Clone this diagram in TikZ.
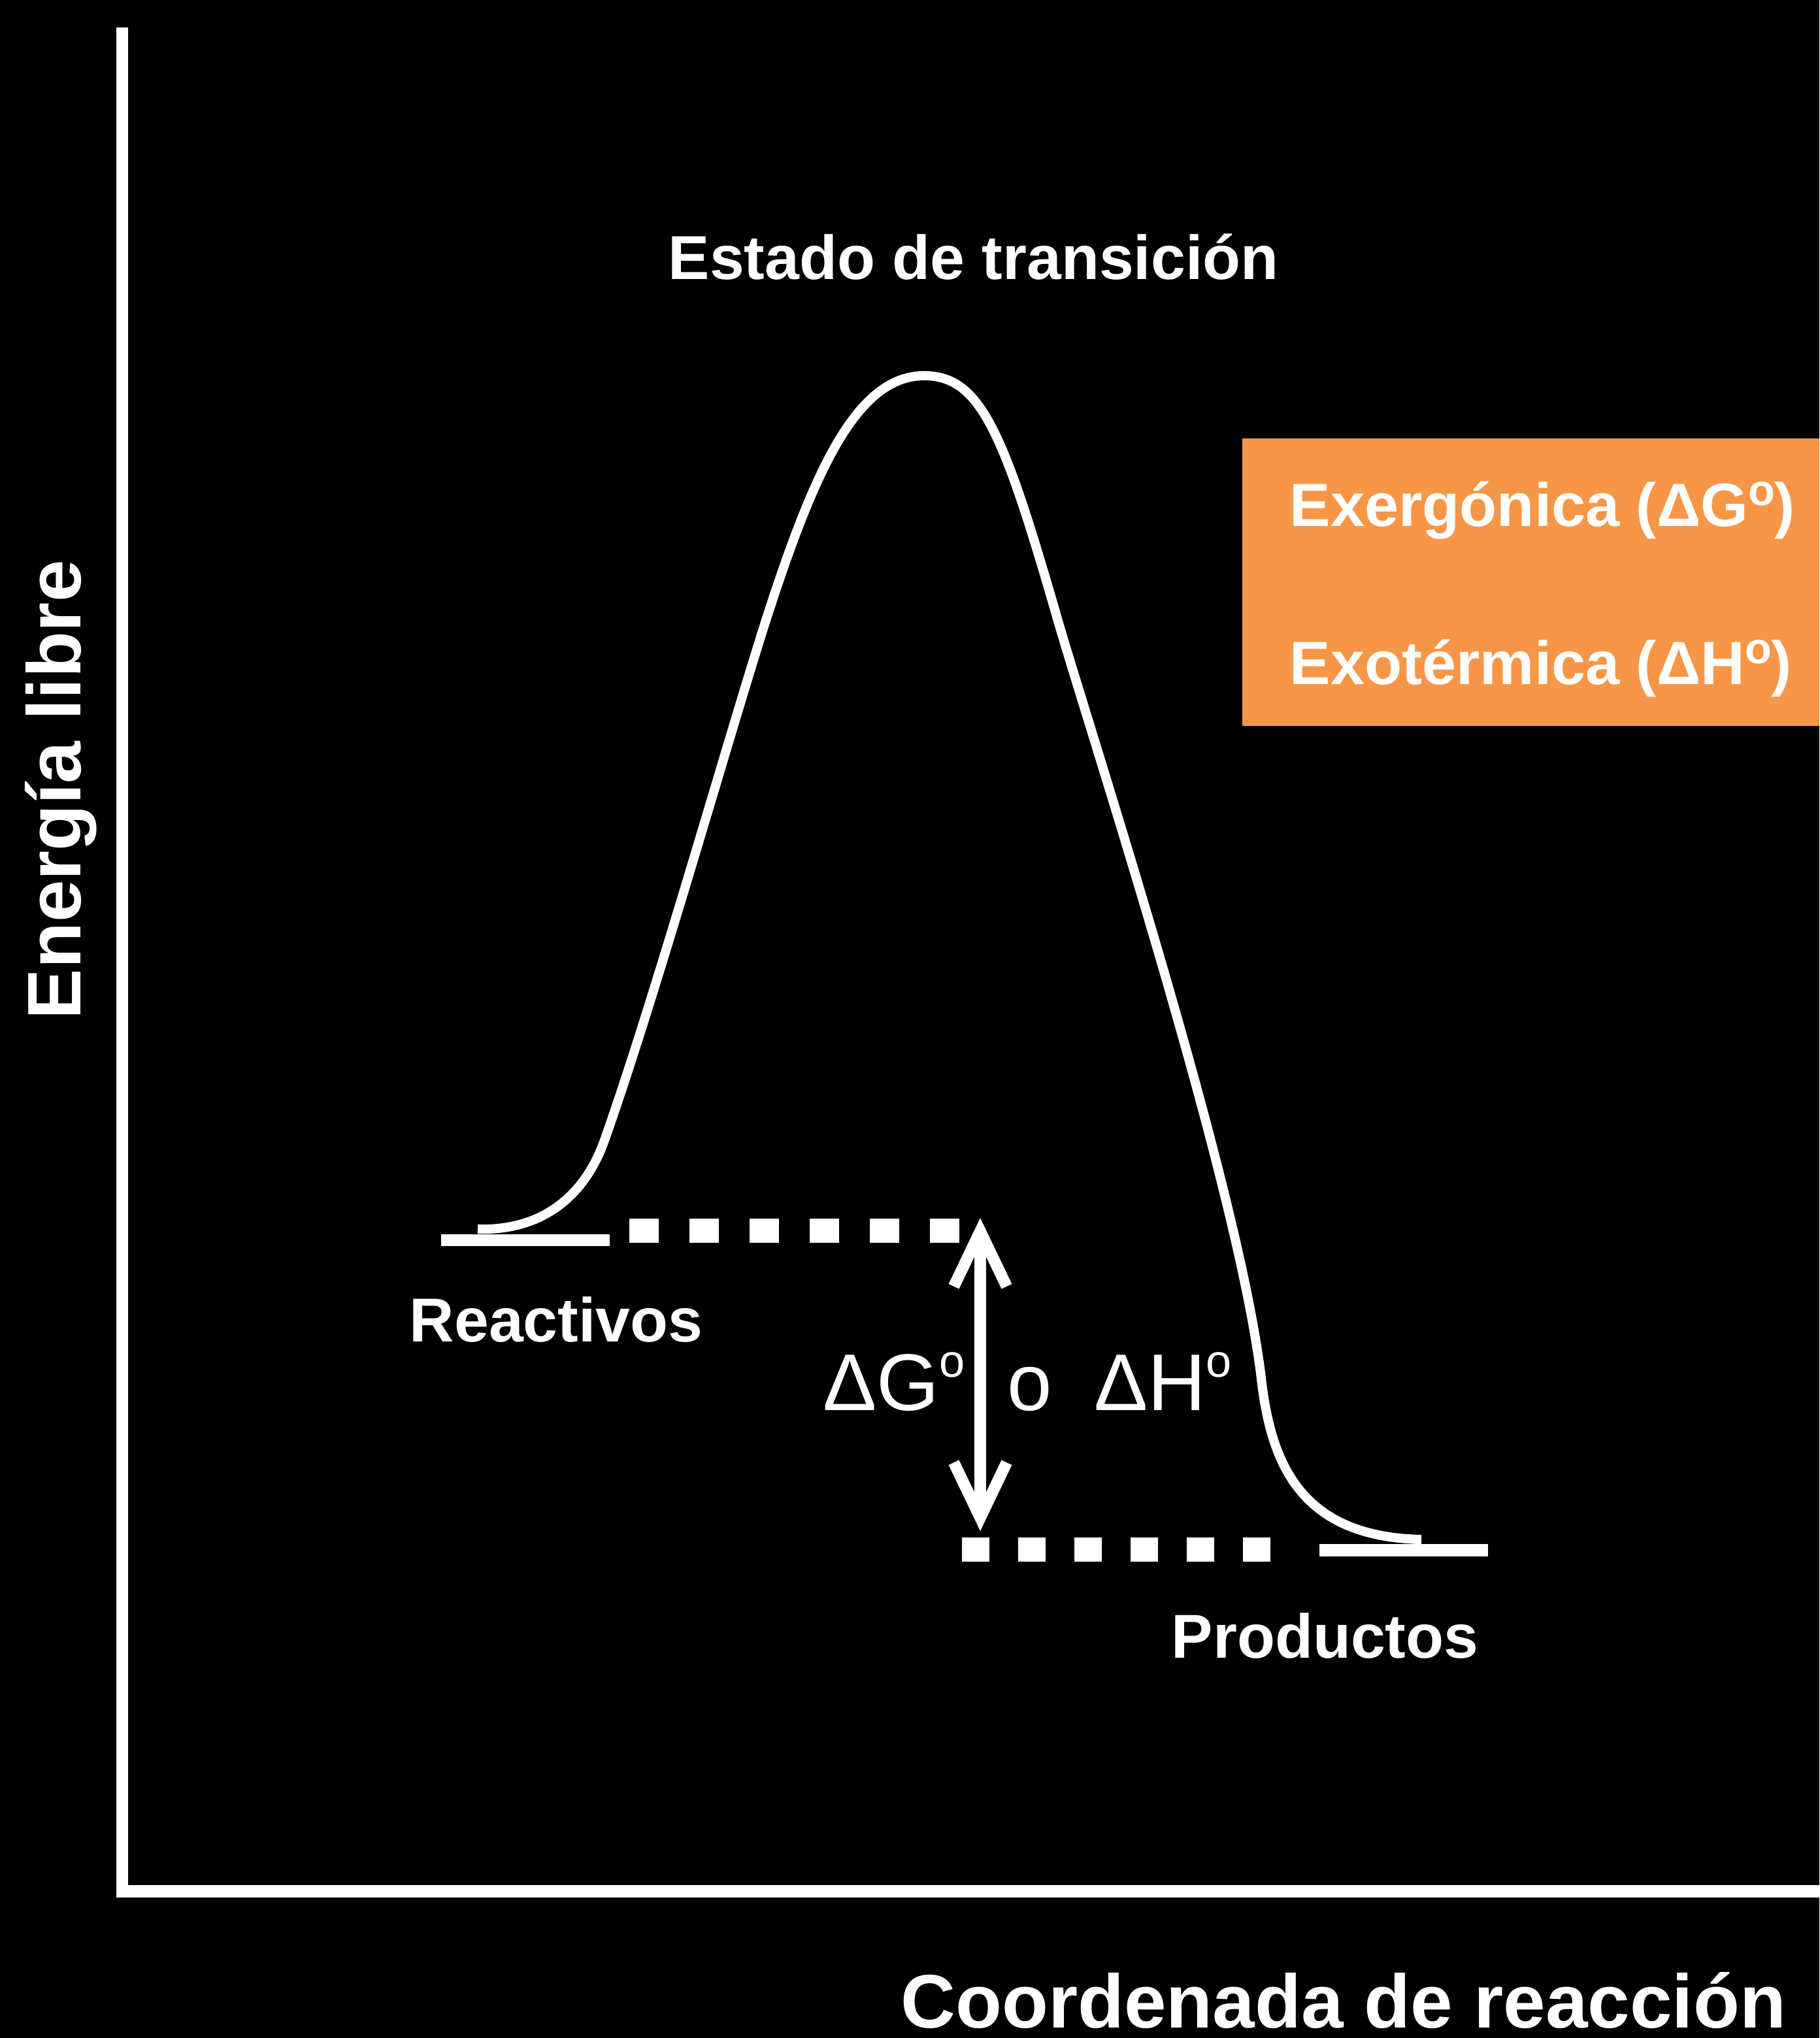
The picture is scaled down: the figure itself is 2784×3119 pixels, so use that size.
\documentclass[tikz,border=0pt]{standalone}
\usepackage{fontspec}
\setmainfont{Liberation Sans}
\usetikzlibrary{arrows.meta}
\definecolor{exoorange}{HTML}{F79646}
\newcommand{\supbig}{\raisebox{14.5pt}{\fontsize{20pt}{20pt}\selectfont o}}
\newcommand{\supbox}{\raisebox{9pt}{\fontsize{19pt}{19pt}\selectfont o}}
\tikzset{
  lbl/.style={text=white,inner sep=0pt,anchor=base west,font=\bfseries\fontsize{27pt}{32pt}\selectfont},
  boxlbl/.style={lbl,font=\bfseries\fontsize{26.6pt}{32pt}\selectfont},
  axislbl/.style={text=white,inner sep=0pt,anchor=base west,font=\bfseries\fontsize{33pt}{38pt}\selectfont},
  deltalbl/.style={text=white,inner sep=0pt,anchor=base west,font=\fontsize{35pt}{40pt}\selectfont},
  barb/.tip={Straight Barb[length=24pt,width=23pt]},
}
\begin{document}
\begin{tikzpicture}[x=0.01cm,y=-0.01cm]
\fill[black] (0,0) rectangle (2784,3119);
\useasboundingbox (0,0) rectangle (2784,3119);
% axes
\fill[white] (178,42) rectangle (196,2904);
\fill[white] (178,2885) rectangle (2784,2904);
\node[axislbl,rotate=90] (ylab) at (123,1561) {Energía libre};
\node[axislbl] (xlab) at (1378,3103) {Coordenada de reacción};
% reactant and product levels
\fill[white] (675,1889) rectangle (933,1907);
\fill[white] (2019,2363) rectangle (2277,2382);
\foreach \x in {0,...,5} % edit here for the top dashes
\fill[white] ({963+92*\x},1865) rectangle ++(45,37);
\foreach \x in {0,...,5} % edit here for the bottom dashes
\fill[white] ({1472+86*\x},2353) rectangle ++(42,37);
% energy profile
\draw[white,line width=4pt] (731,1881) .. controls (830,1884) and (895,1830) .. (925,1745)
  .. controls (1003,1525) and (1120,1110) .. (1175,940)
  .. controls (1245,725) and (1310,575) .. (1414,575)
  .. controls (1500,575) and (1535,660) .. (1616,940)
  .. controls (1660,1095) and (1895,1810) .. (1930,2110)
  .. controls (1945,2240) and (1990,2352) .. (2175,2356);
% difference arrow
\coordinate (gtop) at (1500,1864);
\coordinate (gbot) at (1500,2343);
\draw[white,line width=5pt,barb-barb] (gtop) -- (gbot);
\node[deltalbl] (dg) at (1259,2158) {ΔG\supbig};
\node[deltalbl] (ot) at (1541,2158) {o};
\node[deltalbl] (dh) at (1674,2158) {ΔH\supbig};
% labels
\node[lbl] (ts) at (1022,428) {Estado de transición};
\node[lbl] (reac) at (626,2053) {Reactivos};
\node[lbl] (prod) at (1792,2537) {Productos};
% sign box
\fill[exoorange] (1901,671) rectangle (2784,1111);
\node[boxlbl] (exer) at (1973,805) {Exergónica (ΔG\supbox)};
\node[boxlbl] (exot) at (1973,1047) {Exotérmica (ΔH\supbox)};
\end{tikzpicture}
\end{document}
